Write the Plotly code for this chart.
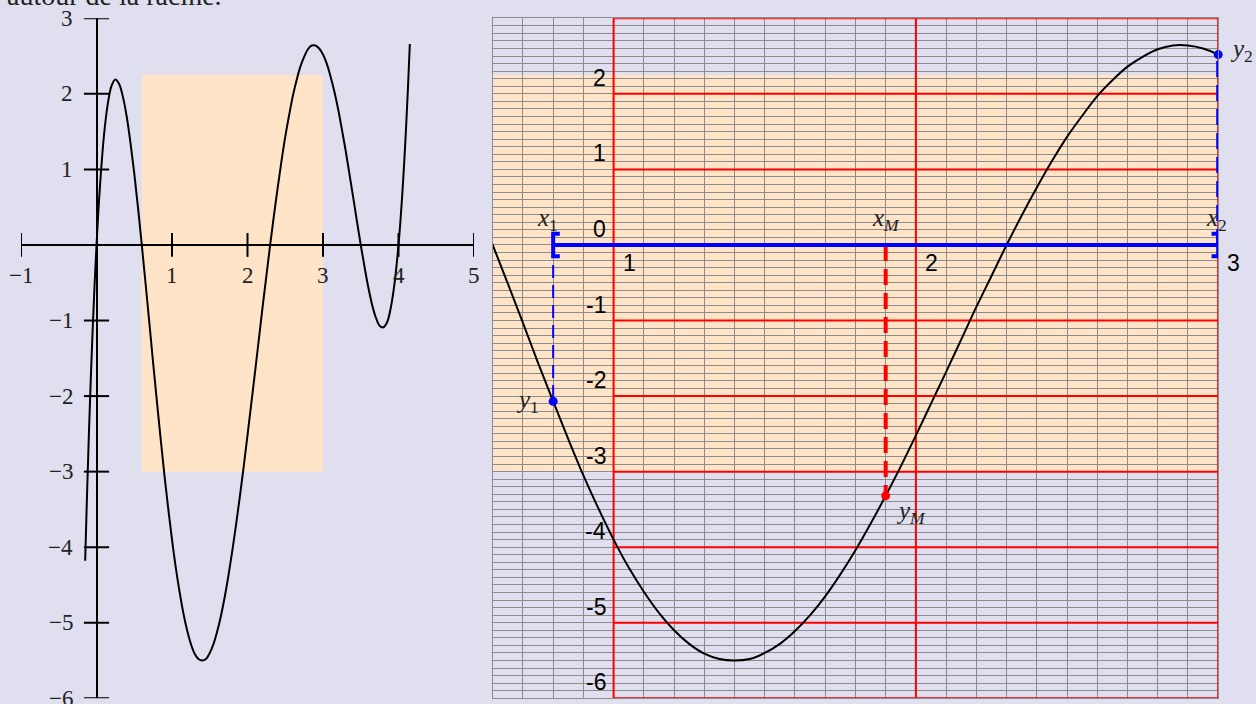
import plotly.graph_objects as go

# ---- data ----
curve_x = [-0.15, -0.125, -0.1, -0.075, -0.05, -0.025, 0, 0.025, 0.05, 0.1, 0.15, 0.2, 0.25, 0.3, 0.35,
           0.4, 0.45, 0.5, 0.55, 0.6, 0.65, 0.7, 0.75, 0.8, 0.85, 0.9, 0.95, 1.0, 1.05, 1.1, 1.15,
           1.2, 1.25, 1.3, 1.35, 1.4, 1.45, 1.5, 1.55, 1.6, 1.65, 1.7, 1.75, 1.8, 1.85, 1.9, 1.95,
           2.0, 2.05, 2.1, 2.15, 2.2, 2.25, 2.3, 2.35, 2.4, 2.45, 2.5, 2.55, 2.6, 2.65, 2.7, 2.75,
           2.8, 2.85, 2.9, 2.95, 3.0, 3.05, 3.1, 3.15, 3.2, 3.25, 3.3, 3.35, 3.4, 3.45, 3.5, 3.55,
           3.6, 3.65, 3.7, 3.75, 3.8, 3.85, 3.9, 3.95, 4.0, 4.025, 4.05, 4.075, 4.1, 4.125, 4.15]
curve_y = [-4.18, -3.29, -2.48, -1.75, -1.10, -0.52, 0, 0.45, 0.84, 1.46, 1.87, 2.11, 2.19, 2.13, 1.96,
           1.70, 1.35, 0.95, 0.49, 0, -0.51, -1.03, -1.56, -2.07, -2.57, -3.05, -3.49, -3.90, -4.27, -4.59, -4.87,
           -5.10, -5.28, -5.41, -5.48, -5.50, -5.48, -5.40, -5.28, -5.11, -4.90, -4.65, -4.36, -4.04, -3.69, -3.32, -2.93,
           -2.52, -2.10, -1.68, -1.25, -0.82, -0.41, 0, 0.39, 0.76, 1.11, 1.43, 1.71, 1.97, 2.18, 2.36, 2.49,
           2.59, 2.64, 2.64, 2.60, 2.52, 2.40, 2.23, 2.03, 1.80, 1.53, 1.25, 0.94, 0.63, 0.31, 0, -0.29,
           -0.56, -0.79, -0.96, -1.07, -1.09, -1.02, -0.82, -0.49, 0, 0.31, 0.67, 1.08, 1.55, 2.07, 2.66]

rect_x = [0.6, 3.0]
rect_y = [-3.0, 2.25]

left_xticks = [-1, 1, 2, 3, 4, 5]
left_yticks = [3, 2, 1, -1, -2, -3, -4, -5, -6]
right_major_x = [1, 2, 3]
right_major_y = [3, 2, 1, 0, -1, -2, -3, -4, -5, -6]
right_xlabels = [1, 2, 3]
right_ylabels = [2, 1, 0, -1, -2, -3, -4, -5, -6]

x1, x2, xM = 0.8, 3.0, 1.9
y1, y2, yM = -2.07, 2.52, -3.32

BG = "#DFDFEF"
ORANGE = "#FFE4C8"
SERIF = "Liberation Serif"
SANS = "Liberation Sans"

fig = go.Figure()

# ---------- left panel ----------
fig.add_trace(go.Scatter(x=curve_x, y=curve_y, mode="lines",
                         line=dict(color="black", width=2, shape="spline", smoothing=1.0),
                         xaxis="x", yaxis="y", hoverinfo="skip"))
fig.add_trace(go.Scatter(x=left_xticks, y=[0] * len(left_xticks), mode="markers",
                         marker=dict(symbol="line-ns", size=17, line=dict(width=2, color="black")),
                         xaxis="x", yaxis="y", hoverinfo="skip"))
fig.add_trace(go.Scatter(x=[0] * len(left_yticks), y=left_yticks, mode="markers",
                         marker=dict(symbol="line-ew", size=18, line=dict(width=2, color="black")),
                         xaxis="x", yaxis="y", hoverinfo="skip"))

# ---------- right panel ----------
fig.add_trace(go.Scatter(x=curve_x, y=curve_y, mode="lines",
                         line=dict(color="black", width=2, shape="spline", smoothing=1.0),
                         xaxis="x2", yaxis="y2", hoverinfo="skip"))
# dashed verticals
fig.add_trace(go.Scatter(x=[x1, x1], y=[0, y1], mode="lines", line=dict(color="blue", width=2, dash="13px,7px"),
                         xaxis="x2", yaxis="y2", hoverinfo="skip"))
fig.add_trace(go.Scatter(x=[x2, x2], y=[0, y2], mode="lines", line=dict(color="blue", width=4, dash="16px,8px"),
                         xaxis="x2", yaxis="y2", hoverinfo="skip"))
fig.add_trace(go.Scatter(x=[xM, xM], y=[0, yM], mode="lines", line=dict(color="red", width=4, dash="16px,8px"),
                         xaxis="x2", yaxis="y2", hoverinfo="skip"))
# interval with brackets
fig.add_trace(go.Scatter(x=[x1, x2], y=[0, 0], mode="lines", line=dict(color="blue", width=4),
                         xaxis="x2", yaxis="y2", hoverinfo="skip"))
bw, bh = 0.022, 0.15
fig.add_trace(go.Scatter(x=[x1 + bw, x1, x1, x1 + bw], y=[bh, bh, -bh, -bh], mode="lines",
                         line=dict(color="blue", width=4), xaxis="x2", yaxis="y2", hoverinfo="skip"))
fig.add_trace(go.Scatter(x=[x2 - bw, x2, x2, x2 - bw], y=[bh, bh, -bh, -bh], mode="lines",
                         line=dict(color="blue", width=4), xaxis="x2", yaxis="y2", hoverinfo="skip"))
# points
fig.add_trace(go.Scatter(x=[x1, x2], y=[y1, y2], mode="markers", marker=dict(color="blue", size=9),
                         xaxis="x2", yaxis="y2", hoverinfo="skip", cliponaxis=False))
fig.add_trace(go.Scatter(x=[xM], y=[yM], mode="markers", marker=dict(color="red", size=9),
                         xaxis="x2", yaxis="y2", hoverinfo="skip"))

shapes = []
for xr, yr in (("x", "y"), ("x2", "y2")):
    shapes.append(dict(type="rect", xref=xr, yref=yr, x0=rect_x[0], x1=rect_x[1], y0=rect_y[0], y1=rect_y[1],
                       fillcolor=ORANGE, line=dict(width=0), layer="below"))
for xv in right_major_x:
    shapes.append(dict(type="line", xref="x2", yref="y2", x0=xv, x1=xv, y0=min(right_major_y), y1=max(right_major_y),
                       line=dict(color="red", width=2), layer="between"))
for yv in right_major_y:
    shapes.append(dict(type="line", xref="x2", yref="y2", x0=min(right_major_x), x1=max(right_major_x), y0=yv, y1=yv,
                       line=dict(color="red", width=2), layer="between"))

ann = []
def num(v):
    return str(v).replace("-", "\u2212")
for v in left_xticks:
    ann.append(dict(x=v, y=0, xref="x", yref="y", text=num(v), showarrow=False, yshift=-31,
                    font=dict(family=SERIF, size=23, color="#222")))
for v in left_yticks:
    ann.append(dict(x=0, y=v, xref="x", yref="y", text=num(v), showarrow=False, xanchor="right", xshift=-22,
                    font=dict(family=SERIF, size=23, color="#222")))
for v in right_xlabels:
    ann.append(dict(x=v, y=0, xref="x2", yref="y2", text=str(v), showarrow=False, xanchor="left", xshift=7,
                    yshift=-18, font=dict(family=SANS, size=23, color="black")))
for v in right_ylabels:
    ann.append(dict(x=min(right_major_x), y=v, xref="x2", yref="y2", text=str(v), showarrow=False,
                    xanchor="right", xshift=-6, yshift=16, font=dict(family=SANS, size=23, color="black")))

mfont = dict(family=SERIF, size=25, color="#222")
ann += [
    dict(x=x1, y=0, xref="x2", yref="y2", text="<i>x</i><sub>1</sub>", showarrow=False, xshift=-6, yshift=25, font=mfont),
    dict(x=xM, y=0, xref="x2", yref="y2", text="<i>x</i><sub><i>M</i></sub>", showarrow=False, xshift=0, yshift=25, font=mfont),
    dict(x=x2, y=0, xref="x2", yref="y2", text="<i>x</i><sub>2</sub>", showarrow=False, xshift=-2, yshift=25, font=mfont),
    dict(x=x1, y=y1, xref="x2", yref="y2", text="<i>y</i><sub>1</sub>", showarrow=False, xanchor="right", xshift=-12, font=mfont),
    dict(x=xM, y=yM, xref="x2", yref="y2", text="<i>y</i><sub><i>M</i></sub>", showarrow=False, xanchor="left", xshift=8, yshift=-17, font=mfont),
    dict(x=x2, y=y2, xref="x2", yref="y2", text="<i>y</i><sub>2</sub>", showarrow=False, xanchor="left", xshift=10, yshift=4, font=mfont),
    dict(x=5 / 1256, y=1 + 5 / 704, xref="paper", yref="paper", text="autour de la racine.", showarrow=False,
         xanchor="left", yanchor="middle", font=dict(family=SERIF, size=28, color="#222")),
]

ydom = [5.7 / 704, 685.7 / 704]
fig.update_layout(
    width=1256, height=704, margin=dict(l=0, r=0, t=0, b=0),
    paper_bgcolor=BG, plot_bgcolor=BG, showlegend=False,
    xaxis=dict(domain=[21 / 1256, 474 / 1256], range=[-1, 5], showgrid=False, zeroline=True,
               zerolinecolor="black", zerolinewidth=2, showticklabels=False, ticks="", fixedrange=True),
    yaxis=dict(domain=ydom, range=[-6, 3], showgrid=False, zeroline=True,
               zerolinecolor="black", zerolinewidth=2, showticklabels=False, ticks="", fixedrange=True),
    xaxis2=dict(domain=[492.7 / 1256, 1218.2 / 1256], range=[0.6, 3.0], anchor="y2", tick0=0, dtick=0.1,
                showgrid=True, gridcolor="#8c8c8c", gridwidth=1.3, zeroline=False, showticklabels=False,
                ticks="", showline=True, mirror=True, linecolor="#8c8c8c", linewidth=1.3),
    yaxis2=dict(domain=ydom, range=[-6, 3], anchor="x2", tick0=0, dtick=0.1,
                showgrid=True, gridcolor="#8c8c8c", gridwidth=1.3, zeroline=False, showticklabels=False,
                ticks="", showline=True, mirror=True, linecolor="#8c8c8c", linewidth=1.3),
    shapes=shapes, annotations=ann,
)

fig.write_html("out.html", config={"displayModeBar": False},
               post_script="document.body.style.margin='0px';document.body.style.overflow='hidden';")
